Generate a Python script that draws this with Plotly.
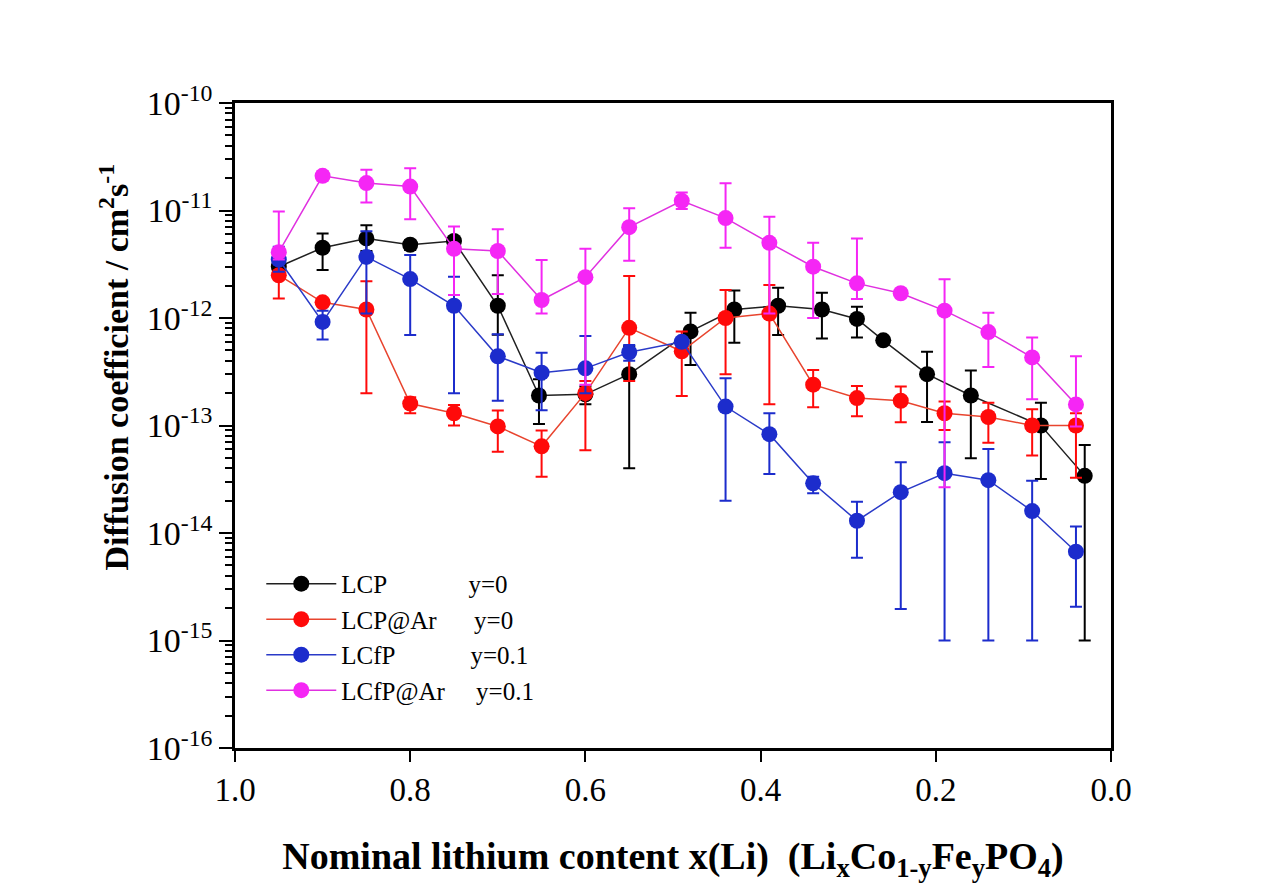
import plotly.graph_objects as go

# ---------------- data ----------------
series_names = ["LCP", "LCP@Ar", "LCfP", "LCfP@Ar"]
series_tags = ["y=0", "y=0", "y=0.1", "y=0.1"]

lcp_x = [0.95, 0.90, 0.85, 0.80, 0.75, 0.70, 0.653, 0.60, 0.55, 0.48, 0.43, 0.38, 0.33, 0.29, 0.26, 0.21, 0.16, 0.08, 0.03]
lcp_y = [3.0e-12, 4.5e-12, 5.5e-12, 4.8e-12, 5.2e-12, 1.3e-12, 1.9e-13, 1.95e-13, 3.0e-13, 7.5e-13, 1.2e-12, 1.3e-12, 1.2e-12, 9.8e-13, 6.2e-13, 3.0e-13, 1.9e-13, 1.0e-13, 3.4e-14]
lcp_hi = [3.3e-12, 6.1e-12, 7.3e-12, 5.3e-12, 5.6e-12, 2.5e-12, 2.7e-13, 2.3e-13, 5.5e-13, 1.12e-12, 1.8e-12, 1.91e-12, 1.72e-12, 1.27e-12, 6.2e-13, 4.86e-13, 3.24e-13, 1.63e-13, 6.6e-14]
lcp_lo = [2.7e-12, 2.8e-12, 4.2e-12, 4.3e-12, 4.8e-12, 7.0e-13, 1.03e-13, 1.58e-13, 4.0e-14, 3.66e-13, 5.9e-13, 6.95e-13, 6.45e-13, 6.6e-13, 6.2e-13, 1.08e-13, 4.96e-14, 3.18e-14, 1.0e-15]

lcpar_x = [0.95, 0.90, 0.85, 0.80, 0.75, 0.70, 0.65, 0.60, 0.55, 0.49, 0.44, 0.39, 0.34, 0.29, 0.24, 0.19, 0.14, 0.09, 0.04]
lcpar_y = [2.5e-12, 1.4e-12, 1.2e-12, 1.6e-13, 1.3e-13, 9.8e-14, 6.4e-14, 2.0e-13, 8.1e-13, 4.9e-13, 1.0e-12, 1.1e-12, 2.4e-13, 1.8e-13, 1.7e-13, 1.3e-13, 1.2e-13, 1.0e-13, 1.0e-13]
lcpar_hi = [3.3e-12, 1.5e-12, 2.2e-12, 1.83e-13, 1.55e-13, 1.38e-13, 9.0e-14, 2.6e-13, 2.46e-12, 7.5e-13, 1.82e-12, 2.03e-12, 3.28e-13, 2.33e-13, 2.3e-13, 1.67e-13, 1.63e-13, 1.42e-13, 1.3e-13]
lcpar_lo = [1.52e-12, 1.3e-12, 2.0e-13, 1.3e-13, 1.0e-13, 5.7e-14, 3.34e-14, 5.9e-14, 2.6e-13, 1.88e-13, 3.0e-13, 1.58e-13, 1.48e-13, 1.22e-13, 1.07e-13, 9.1e-14, 6.9e-14, 5.25e-14, 3.27e-14]

lcfp_x = [0.95, 0.90, 0.85, 0.80, 0.75, 0.70, 0.65, 0.60, 0.55, 0.49, 0.44, 0.39, 0.34, 0.29, 0.24, 0.19, 0.14, 0.09, 0.04]
lcfp_y = [3.5e-12, 9.2e-13, 3.7e-12, 2.3e-12, 1.3e-12, 4.4e-13, 3.1e-13, 3.4e-13, 4.8e-13, 6.0e-13, 1.5e-13, 8.3e-14, 2.9e-14, 1.3e-14, 2.4e-14, 3.6e-14, 3.1e-14, 1.6e-14, 6.7e-15]
lcfp_hi = [4.6e-12, 1.17e-12, 6.4e-12, 3.86e-12, 2.42e-12, 7.05e-13, 4.75e-13, 6.8e-13, 5.6e-13, 6.5e-13, 2.75e-13, 1.3e-13, 3.34e-14, 1.95e-14, 4.55e-14, 6.98e-14, 6.04e-14, 3.07e-14, 1.15e-14]
lcfp_lo = [2.7e-12, 6.3e-13, 1.1e-12, 6.95e-13, 2.0e-13, 1.7e-13, 1.39e-13, 2.0e-13, 4.0e-13, 5.5e-13, 2.0e-14, 3.54e-14, 2.34e-14, 5.9e-15, 1.96e-15, 1.0e-15, 1.0e-15, 1.0e-15, 2.06e-15]

lcfpar_x = [0.95, 0.90, 0.85, 0.80, 0.75, 0.70, 0.65, 0.60, 0.55, 0.49, 0.44, 0.39, 0.34, 0.29, 0.24, 0.19, 0.14, 0.09, 0.04]
lcfpar_y = [4.1e-12, 2.1e-11, 1.8e-11, 1.67e-11, 4.4e-12, 4.2e-12, 1.47e-12, 2.4e-12, 7.0e-12, 1.23e-11, 8.5e-12, 5.0e-12, 3.0e-12, 2.1e-12, 1.7e-12, 1.17e-12, 7.4e-13, 4.3e-13, 1.57e-13]
lcfpar_hi = [9.8e-12, 2.3e-11, 2.4e-11, 2.47e-11, 7.1e-12, 6.7e-12, 3.46e-12, 4.4e-12, 1.05e-11, 1.47e-11, 1.79e-11, 8.75e-12, 5.0e-12, 5.5e-12, 1.7e-12, 2.29e-12, 1.12e-12, 6.6e-13, 4.4e-13]
lcfpar_lo = [3.5e-12, 1.9e-11, 1.19e-11, 8.3e-12, 1.64e-12, 1.67e-12, 1.1e-12, 2.4e-13, 3.4e-12, 1.03e-11, 4.5e-12, 1.1e-12, 1.0e-12, 1.5e-12, 1.7e-12, 2.66e-14, 3.5e-13, 1.75e-13, 9.8e-14]

x_ticks = [1.0, 0.8, 0.6, 0.4, 0.2, 0.0]
x_ticklabels = ["1.0", "0.8", "0.6", "0.4", "0.2", "0.0"]
y_exponents = [-16, -15, -14, -13, -12, -11, -10]

# ---------------- styling ----------------
colors = ["#000000", "#ff0a0a", "#1c2ccc", "#f526f5"]
line_colors = ["#202020", "#e8442e", "#2a3ac8", "#e030e0"]
FONT = "Liberation Serif"

datasets = [
    (lcp_x, lcp_y, lcp_hi, lcp_lo),
    (lcpar_x, lcpar_y, lcpar_hi, lcpar_lo),
    (lcfp_x, lcfp_y, lcfp_hi, lcfp_lo),
    (lcfpar_x, lcfpar_y, lcfpar_hi, lcfpar_lo),
]

pads = [13, 6, 12, 5]
fig = go.Figure()
for i, (xs, ys, hi, lo) in enumerate(datasets):
    plus = [h - v for h, v in zip(hi, ys)]
    minus = [v - l for l, v in zip(lo, ys)]
    label = series_names[i] + "\u00a0" * pads[i] + series_tags[i]
    fig.add_trace(go.Scatter(
        x=xs, y=ys, mode="lines+markers", name=label,
        line=dict(color=line_colors[i], width=1.5),
        marker=dict(color=colors[i], size=16, line=dict(width=0)),
        error_y=dict(type="data", symmetric=False, array=plus, arrayminus=minus,
                     color=colors[i], thickness=2, width=6),
    ))

minor_vals = [m * 10.0 ** e for e in y_exponents[:-1] for m in range(2, 10)]

fig.update_layout(
    width=1288, height=892, autosize=False,
    margin=dict(l=235, r=177, t=103, b=144),
    paper_bgcolor="white", plot_bgcolor="white",
    font=dict(family=FONT, color="black", size=24),
    showlegend=True,
    legend=dict(x=0.03, y=0.29, xanchor="left", yanchor="top",
                bgcolor="rgba(0,0,0,0)", borderwidth=0,
                font=dict(family=FONT, size=25, color="black"),
                tracegroupgap=0, itemwidth=70),
    xaxis=dict(
        range=[1.0, 0.0], tickmode="array", tickvals=x_ticks, ticktext=x_ticklabels,
        ticks="outside", ticklen=11, tickwidth=2, tickcolor="black",
        showline=True, linewidth=2.5, linecolor="black", mirror=True,
        showgrid=False, zeroline=False,
        tickfont=dict(family=FONT, size=33, color="black"),
        title=dict(text="<b>Nominal lithium content x(Li)  (Li<sub>x</sub>Co<sub>1-y</sub>Fe<sub>y</sub>PO<sub>4</sub>)</b>",
                   font=dict(family=FONT, size=38, color="black"), standoff=36),
    ),
    yaxis=dict(
        type="log", range=[-16, -10], tickmode="array",
        tickvals=[10.0 ** e for e in y_exponents],
        ticktext=["10<sup>%d</sup>" % e for e in y_exponents],
        ticks="outside", ticklen=13, tickwidth=2, tickcolor="black",
        minor=dict(tickmode="array", tickvals=minor_vals, ticks="outside",
                   ticklen=7, tickwidth=2, tickcolor="black", showgrid=False),
        showline=True, linewidth=2.5, linecolor="black", mirror=True,
        showgrid=False, zeroline=False,
        tickfont=dict(family=FONT, size=34, color="black"),
    ),
    annotations=[dict(
        text="<b>Diffusion coefficient / cm<sup>2</sup>s<sup>-1</sup></b>",
        xref="paper", yref="paper", x=-0.138, y=0.59, xanchor="center", yanchor="middle",
        textangle=-90, showarrow=False,
        font=dict(family=FONT, size=34, color="black"),
    )],
)

fig.write_html("out.html")
